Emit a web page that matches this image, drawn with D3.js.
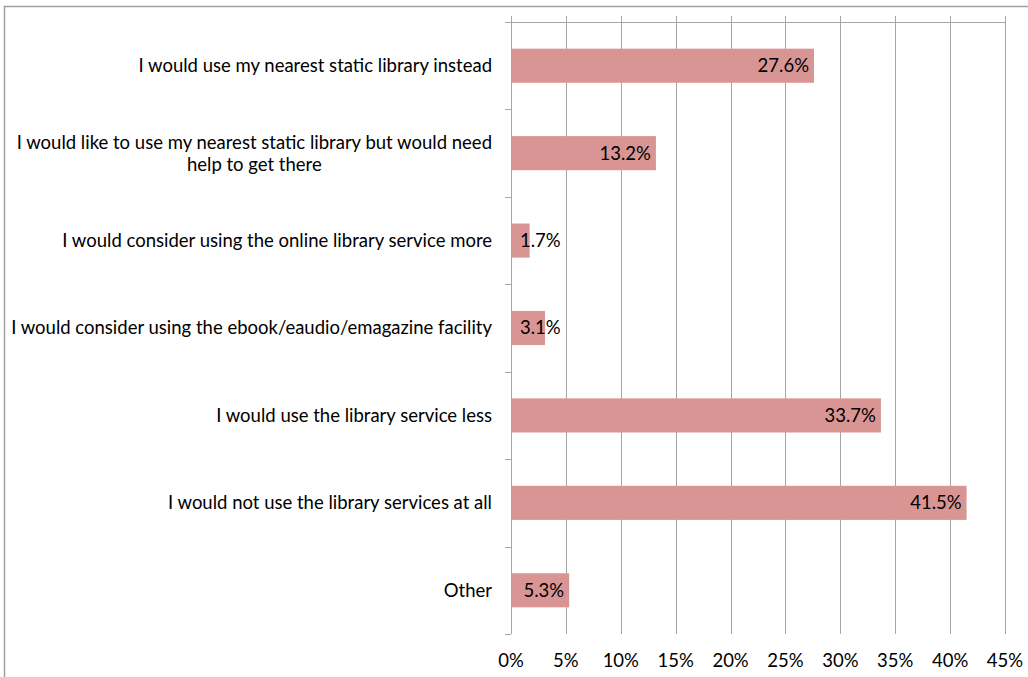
<!DOCTYPE html>
<html>
<head>
<meta charset="utf-8">
<script src="https://cdn.jsdelivr.net/npm/d3@7"></script>
<style>
  html, body { margin: 0; padding: 0; background: #fff; }
  svg { display: block; font-family: Lato, "Open Sans", sans-serif; }
</style>
</head>
<body>
<svg id="chart" width="1028" height="677"></svg>
<script>
// Survey responses: what people would do if the mobile library stopped
const categories = [
  "I would use my nearest static library instead",
  "I would like to use my nearest static library but would need help to get there",
  "I would consider using the online library service more",
  "I would consider using the ebook/eaudio/emagazine facility",
  "I would use the library service less",
  "I would not use the library services at all",
  "Other"
];
const categoryLines = [
  ["I would use my nearest static library instead"],
  ["I would like to use my nearest static library but would need", "help to get there"],
  ["I would consider using the online library service more"],
  ["I would consider using the ebook/eaudio/emagazine facility"],
  ["I would use the library service less"],
  ["I would not use the library services at all"],
  ["Other"]
];
const percentages = [27.6, 13.2, 1.7, 3.1, 33.7, 41.5, 5.3];
const tickValues = [0, 5, 10, 15, 20, 25, 30, 35, 40, 45];

const svg = d3.select("#chart");
const W = 1028, H = 677;
const plot = { left: 511, right: 1005, top: 22, bottom: 634 };
const gridColor = "#a6a6a6";
const barColor = "#d99594";
const fontSize = 18.5;

// chart frame
svg.append("path")
  .attr("d", `M4.5,${H} V6.5 H${W}`)
  .attr("fill", "none")
  .attr("stroke", "#a0a0a0")
  .attr("stroke-width", 1.5);

const x = d3.scaleLinear().domain([0, 45]).range([plot.left, plot.right]);
const y = d3.scaleBand().domain(categories).range([plot.top, plot.bottom])
  .paddingInner(0.61).paddingOuter(0.305);

// vertical gridlines with small ticks above the plot
svg.append("g").selectAll("line")
  .data(tickValues)
  .join("line")
  .attr("x1", d => Math.round(x(d)) + 0.5)
  .attr("x2", d => Math.round(x(d)) + 0.5)
  .attr("y1", plot.top - 6)
  .attr("y2", plot.bottom)
  .attr("stroke", gridColor)
  .attr("stroke-width", 1);

// top horizontal line of the value axis
svg.append("line")
  .attr("x1", plot.left).attr("x2", Math.round(x(45)) + 1)
  .attr("y1", plot.top + 0.5).attr("y2", plot.top + 0.5)
  .attr("stroke", gridColor);

// category axis line and boundary ticks
const boundaries = d3.range(categories.length + 1)
  .map(i => plot.top + i * (plot.bottom - plot.top) / categories.length);
svg.append("line")
  .attr("x1", plot.left + 0.5).attr("x2", plot.left + 0.5)
  .attr("y1", plot.top).attr("y2", plot.bottom)
  .attr("stroke", gridColor);
svg.append("g").selectAll("line")
  .data(boundaries)
  .join("line")
  .attr("x1", plot.left - 6).attr("x2", plot.left)
  .attr("y1", d => Math.round(d) + 0.5)
  .attr("y2", d => Math.round(d) + 0.5)
  .attr("stroke", gridColor);

// bars
svg.append("g").selectAll("rect")
  .data(percentages)
  .join("rect")
  .attr("x", x(0) + 1)
  .attr("y", (d, i) => y(categories[i]))
  .attr("width", d => x(d) - x(0) - 1)
  .attr("height", y.bandwidth())
  .attr("fill", barColor);

// value labels inside the bar ends
svg.append("g").selectAll("text")
  .data(percentages)
  .join("text")
  .attr("y", (d, i) => y(categories[i]) + y.bandwidth() / 2)
  .attr("dy", "0.35em")
  .attr("font-size", fontSize)
  .attr("fill", "#000")
  .attr("text-anchor", "end")
  .text(d => d.toFixed(1) + "%")
  .each(function (d) {
    const w = this.getComputedTextLength();
    const endX = Math.max(x(d) - 5, x(0) + 9 + w);
    d3.select(this).attr("x", endX);
  });

// category labels, wrapped lines centred on each other
const catG = svg.append("g");
categoryLines.forEach((lines, i) => {
  const cy = y(categories[i]) + y.bandwidth() / 2;
  const lineH = 22;
  const t = catG.append("text")
    .attr("font-size", fontSize)
    .attr("fill", "#000")
    .attr("text-anchor", "middle");
  lines.forEach((ln, j) => {
    t.append("tspan")
      .attr("y", cy + (j - (lines.length - 1) / 2) * lineH)
      .attr("dy", "0.35em")
      .text(ln);
  });
  const tsp = t.selectAll("tspan").nodes();
  const maxW = d3.max(tsp, n => n.getComputedTextLength());
  const cx = plot.left - 19 - maxW / 2;
  t.selectAll("tspan").attr("x", cx);
});

// value axis tick labels below the plot
svg.append("g").selectAll("text")
  .data(tickValues)
  .join("text")
  .attr("x", d => x(d))
  .attr("y", 661)
  .attr("dy", "0.35em")
  .attr("text-anchor", "middle")
  .attr("font-size", fontSize)
  .attr("fill", "#000")
  .text(d => d + "%");
</script>
</body>
</html>
